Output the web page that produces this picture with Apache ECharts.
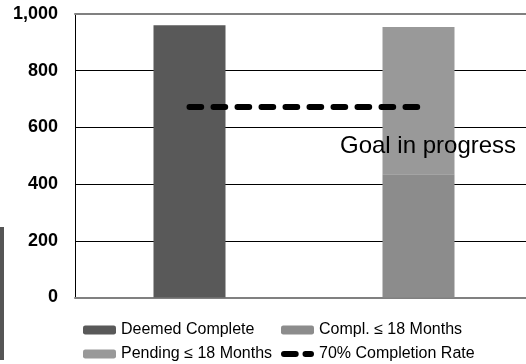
<!DOCTYPE html>
<html>
<head>
<meta charset="utf-8">
<script src="https://cdn.jsdelivr.net/npm/echarts@6/dist/echarts.min.js"></script>
<style>
  html, body { margin: 0; padding: 0; background: #fff; }
  #chart { width: 526px; height: 364px; }
</style>
</head>
<body>
<div id="chart"></div>
<script>
// Categories along the x axis (names are not printed)
const categories = ['Deemed', 'Within 18 Months'];

// Stacked bar values
const deemedComplete = [960, '-'];
const complWithin18 = ['-', 435];
const pendingWithin18 = ['-', 519];

// Goal line: 70% of the deemed-complete total
const completionRate70 = [672, 672];

// Y axis ticks
const yTicks = [0, 200, 400, 600, 800, 1000];

const FONT = "'Liberation Sans', Arial, sans-serif";

// Legend swatch for the goal line: two rounded dashes, padded to the swatch box
const DASH_ICON = 'path://M0,0L0,0.01M33,9L33,8.99' +
  'M3,1.5H14.7A3,3 0 0 1 14.7,7.5H3A3,3 0 0 1 3,1.5Z' +
  'M24.5,1.5H30A3,3 0 0 1 30,7.5H24.5A3,3 0 0 1 24.5,1.5Z';

const chart = echarts.init(document.getElementById('chart'), null, { renderer: 'canvas' });

const legendCommon = {
  orient: 'vertical',
  top: 322,
  height: 42,
  padding: 0,
  itemWidth: 33,
  itemHeight: 9,
  itemGap: 8,
  textStyle: { fontFamily: FONT, fontSize: 16, color: '#000000' }
};

chart.setOption({
  animation: false,
  backgroundColor: '#ffffff',
  textStyle: { fontFamily: FONT },
  // plot area runs slightly past the right edge of the canvas
  grid: {
    left: 75, top: 14, width: 458, height: 283.5,
    containLabel: false, outerBoundsMode: 'none'
  },
  xAxis: [
    {
      type: 'category',
      data: categories,
      axisLine: { show: true, lineStyle: { color: '#808080', width: 2 } },
      axisTick: { show: false },
      axisLabel: { show: false },
      splitLine: { show: false }
    },
    {
      type: 'category',
      position: 'top',
      data: categories,
      axisLine: { show: true, lineStyle: { color: '#808080', width: 2 } },
      axisTick: { show: false },
      axisLabel: { show: false }
    }
  ],
  yAxis: {
    type: 'value',
    min: yTicks[0],
    max: yTicks[yTicks.length - 1],
    interval: yTicks[1] - yTicks[0],
    axisLine: { show: true, lineStyle: { color: '#000000', width: 1 } },
    axisTick: { show: false },
    axisLabel: {
      margin: 17,
      color: '#000000',
      fontFamily: FONT,
      fontWeight: 'bold',
      fontSize: 18,
      formatter: v => v.toLocaleString('en-US')
    },
    splitLine: { show: true, lineStyle: { color: '#000000', width: 1 } }
  },
  legend: [
    Object.assign({}, legendCommon, {
      left: 83,
      data: ['Deemed Complete', 'Pending \u2264 18 Months']
    }),
    Object.assign({}, legendCommon, {
      left: 281,
      data: [
        'Compl. \u2264 18 Months',
        { name: '70% Completion Rate', icon: DASH_ICON, itemStyle: { color: '#000000' } }
      ]
    })
  ],
  series: [
    {
      name: 'Deemed Complete',
      type: 'bar',
      stack: 'total',
      barWidth: 72,
      itemStyle: { color: '#595959' },
      data: deemedComplete
    },
    {
      name: 'Compl. \u2264 18 Months',
      type: 'bar',
      stack: 'total',
      barWidth: 72,
      itemStyle: { color: '#8c8c8c' },
      data: complWithin18
    },
    {
      name: 'Pending \u2264 18 Months',
      type: 'bar',
      stack: 'total',
      barWidth: 72,
      itemStyle: { color: '#999999' },
      data: pendingWithin18
    },
    {
      name: '70% Completion Rate',
      type: 'line',
      symbol: 'none',
      z: 5,
      lineStyle: { color: '#000000', width: 6, type: [11.7, 12.3], cap: 'round' },
      itemStyle: { color: '#000000' },
      data: completionRate70
    }
  ],
  graphic: [
    {
      type: 'text',
      left: 340,
      top: 134,
      z: 10,
      style: { text: 'Goal in progress', fontFamily: FONT, fontSize: 24, fill: '#000000' }
    },
    {
      type: 'rect',
      left: 0,
      top: 227,
      shape: { width: 4, height: 133 },
      style: { fill: '#555555' }
    }
  ]
});
</script>
</body>
</html>
